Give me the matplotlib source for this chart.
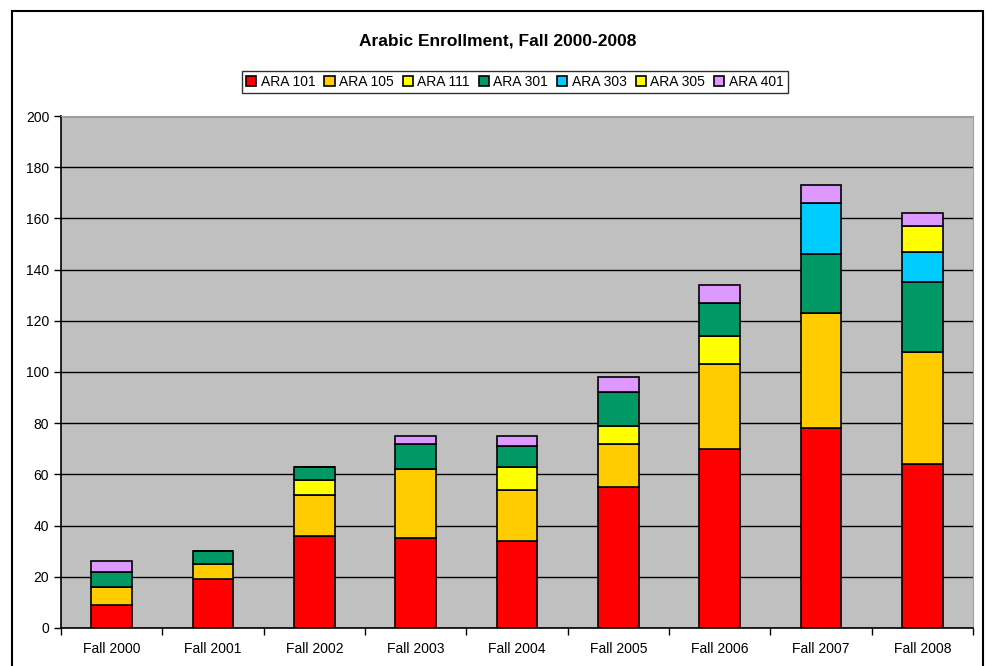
import numpy as np
import matplotlib
matplotlib.use("Agg")
import matplotlib.pyplot as plt
from matplotlib.patches import Rectangle

plt.rcParams['font.family'] = ['Liberation Sans', 'DejaVu Sans']

years = ['Fall 2000', 'Fall 2001', 'Fall 2002', 'Fall 2003', 'Fall 2004',
         'Fall 2005', 'Fall 2006', 'Fall 2007', 'Fall 2008']

# enrollment per course
ara101 = [9, 19, 36, 35, 34, 55, 70, 78, 64]
ara105 = [7, 6, 16, 27, 20, 17, 33, 45, 44]
ara111 = [0, 0, 6, 0, 9, 7, 11, 0, 0]
ara301 = [6, 5, 5, 10, 8, 13, 13, 23, 27]
ara303 = [0, 0, 0, 0, 0, 0, 0, 20, 12]
ara305 = [0, 0, 0, 0, 0, 0, 0, 0, 10]
ara401 = [4, 0, 0, 3, 4, 6, 7, 7, 5]

series = [('ARA 101', ara101, '#FF0000'),
          ('ARA 105', ara105, '#FFCC00'),
          ('ARA 111', ara111, '#FFFF00'),
          ('ARA 301', ara301, '#009966'),
          ('ARA 303', ara303, '#00CCFF'),
          ('ARA 305', ara305, '#FFFF00'),
          ('ARA 401', ara401, '#DD99FF')]

fig = plt.figure(figsize=(9.86, 6.66), dpi=100)
ax = fig.add_axes([0.0619, 0.0571, 0.9249, 0.7687])
ax.set_facecolor('#C0C0C0')

x = np.arange(len(years))
bottom = np.zeros(len(years))
handles = []
for name, vals, col in series:
    vals = np.array(vals, dtype=float)
    b = ax.bar(x, vals, 0.4, bottom=bottom, color=col, edgecolor='black',
               linewidth=1.2, label=name, zorder=3)
    handles.append(b)
    bottom += vals

ax.set_xlim(-0.5, len(years) - 0.5)
ax.set_ylim(0, 200)
ax.set_yticks(np.arange(0, 201, 20))
ax.yaxis.grid(True, color='black', linewidth=1, zorder=1)
ax.set_axisbelow(True)

ax.set_xticks(x)
ax.set_xticklabels(years, fontsize=10)
ax.set_xticks(np.arange(-0.5, len(years), 1), minor=True)
ax.tick_params(axis='x', which='major', length=0, pad=10)
ax.tick_params(axis='x', which='minor', length=5, width=1, direction='out')
ax.tick_params(axis='y', labelsize=10, length=5, width=1, direction='out')

for side in ['top', 'right']:
    ax.spines[side].set_color('#A0A0A0')
for side in ['left', 'bottom']:
    ax.spines[side].set_color('black')
    ax.spines[side].set_linewidth(1.2)

fig.text(0.505, 0.938, 'Arabic Enrollment, Fall 2000-2008', ha='center', va='center',
         fontsize=12.5, fontweight='bold')

leg = fig.legend(handles=handles, loc='center', bbox_to_anchor=(0.522, 0.877), ncol=7,
                 fontsize=10, frameon=True, fancybox=False, edgecolor='black',
                 handlelength=0.75, handleheight=0.75, handletextpad=0.3,
                 columnspacing=0.65, borderpad=0.3, borderaxespad=0)
leg.get_frame().set_linewidth(1)

# outer chart border (bottom edge falls outside the image)
fig.add_artist(Rectangle((12 / 986, -0.02), (983 - 12) / 986, 1.02 - 11 / 666,
                         transform=fig.transFigure, fill=False, edgecolor='black',
                         linewidth=1.5, clip_on=False))

fig.savefig('out.png', dpi=100)
